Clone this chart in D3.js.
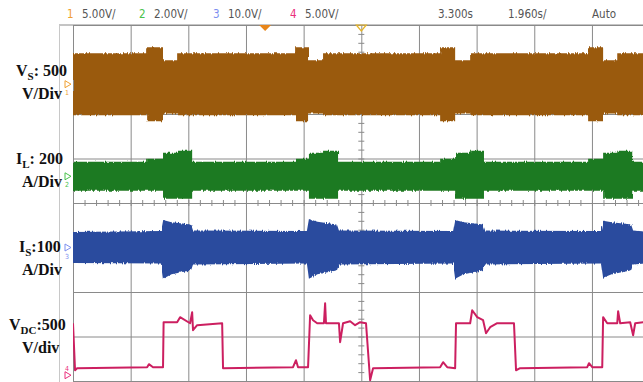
<!DOCTYPE html>
<html>
<head>
<meta charset="utf-8">
<script src="https://cdn.jsdelivr.net/npm/d3@7"></script>
<style>
  body { margin: 0; background: #fff; }
  svg { display: block; }
  .hdr { font-family: "Liberation Sans Narrow", "DejaVu Sans Condensed", Arial, sans-serif; font-size: 11.5px; fill: #555; }
  .lbl { font-family: "Liberation Serif", "Times New Roman", serif; font-weight: bold; font-size: 16px; fill: #111; }
  .grid line { stroke: #8a8a8a; stroke-width: 1; }
  .grid path { display: none; }
</style>
</head>
<body>
<div id="chart"></div>
<script>
// ---- scope settings ----
const SEC_PER_DIV = 1.96;            // time base (s/div), 10 divisions on screen
const chNames   = ['1', '2', '3', '4'];
const chHeader  = ['5.00V/', '2.00V/', '10.0V/', '5.00V/'];
const chColors  = ['#9a5a0d', '#1f7a22', '#2b4c9e', '#cc1f60'];
const chMarkColors = ['#f0a030', '#49c24c', '#7d8ff0', '#ea2f7c'];
const chOffsetDiv = [2.67, 0.6, -1.0, -3.87];  // ground marker positions (div)
const chScale   = [500, 200, 100, 500];        // units per division (from labels)
const timeHeader = ['3.300s', '1.960s/', 'Auto'];

// ---- CH1  V_S (V), envelope amplitude per time segment ----
const vsStart = [0, 2.52, 3.06, 3.54, 7.55, 7.99, 8.50, 12.48, 12.99, 13.50, 17.51, 18.02, 18.50];
const vsAmp   = [348, 416, 298, 348, 416, 298, 348, 416, 298, 348, 416, 298, 348];
const vsShift = [0, 0, -30, 0, 0, -30, 0, 0, -30, 0, 0, -30, 0];

// ---- CH2  I_L (A), envelope max/min per time segment ----
const ilStart = [0, 2.52, 3.06, 3.54, 4.05, 7.55, 8.02, 8.50, 9.01, 12.48, 12.99, 13.50, 13.97, 17.51, 18.02, 18.50, 19.01];
const ilMax   = [65, 79, 106, 115, 65, 79, 106, 115, 65, 79, 106, 115, 65, 79, 106, 115, 65];
const ilMin   = [-65, -65, -101, -101, -65, -65, -101, -101, -65, -65, -101, -101, -65, -65, -101, -101, -65];

// ---- CH3  I_S (A), envelope points ----
const isTime = [0, 2.99, 3.06, 3.35, 3.95, 4.02, 4.08, 7.95, 8.02, 8.31, 8.91, 8.98, 9.04,
  12.92, 12.99, 13.28, 13.88, 13.95, 14.01, 17.95, 18.02, 18.31, 18.91, 18.98, 19.04, 19.6];
const isMax  = [35, 37, 62, 57, 52, 50, 38, 37, 64, 58, 52, 50, 38,
  37, 62, 57, 52, 50, 38, 37, 60, 57, 52, 50, 38, 35];
const isMin  = [-35, -36, -70, -60, -52, -50, -38, -36, -70, -60, -52, -50, -38,
  -36, -70, -60, -52, -50, -38, -36, -68, -60, -52, -50, -38, -35];

// ---- CH4  V_DC (V) ----
const vdcTime = [0, 0.07, 0.14, 2.52, 2.58, 2.72, 3.06, 3.08, 3.54, 3.64, 3.98, 4.05, 4.08, 4.22, 5.07, 5.10,
  7.48, 7.58, 7.65, 7.99, 8.06, 8.16, 8.30, 8.53, 8.57, 8.60, 9.04, 9.08, 9.18, 9.42, 9.59, 9.76, 9.96, 10.10, 10.20,
  12.48, 12.58, 12.72, 12.99, 13.02, 13.50, 13.57, 13.74, 13.94, 14.04, 14.18, 14.42, 14.99, 15.06, 15.20,
  17.48, 17.54, 17.65, 17.99, 18.02, 18.16, 18.50, 18.53, 18.60, 18.94, 19.04, 19.11, 19.38];
const vdcVolt = [584, 56, 79, 90, 124, 90, 90, 596, 596, 652, 584, 708, 506, 562, 584, 79,
  90, 169, 90, 90, 674, 618, 584, 584, 809, 584, 584, 371, 584, 607, 562, 596, 584, -56, 79,
  90, 146, 90, 79, 584, 584, 730, 652, 618, 472, 539, 584, 584, 56, 79,
  90, 135, 90, 90, 652, 584, 584, 719, 584, 596, 449, 584, 596];

// ---- layout ----
const W = 643, H = 382;
const scrLeft = 73, scrTop = 25, divW = 57.66, divH = 44.5;
const tEnd = 10 * SEC_PER_DIV;

const svg = d3.select('#chart').append('svg').attr('width', W).attr('height', H);

const x = d3.scaleLinear().domain([0, tEnd]).range([scrLeft, scrLeft + 10 * divW]);
const y = d3.scaleLinear().domain([-4, 4]).range([scrTop + 8 * divH, scrTop]);
const toDiv = (c, v) => chOffsetDiv[c] + v / chScale[c];

const defs = svg.append('defs');
const rough = defs.append('filter').attr('id', 'rough')
  .attr('x', '-2%').attr('y', '-30%').attr('width', '104%').attr('height', '160%');
rough.append('feTurbulence').attr('type', 'fractalNoise')
  .attr('baseFrequency', '0.9 0.05').attr('numOctaves', 2).attr('seed', 4);
rough.append('feDisplacementMap').attr('in', 'SourceGraphic').attr('scale', 3.5)
  .attr('xChannelSelector', 'R').attr('yChannelSelector', 'G');
defs.append('clipPath').attr('id', 'screen').append('rect')
  .attr('x', scrLeft).attr('y', scrTop).attr('width', W - scrLeft).attr('height', H - scrTop);

// ---- grid ----
const divTimes = d3.range(0, 11).map(i => i * SEC_PER_DIV);
const divLevels = d3.range(-4, 5);

svg.append('g').attr('class', 'grid')
  .attr('transform', `translate(0,${scrTop})`)
  .call(d3.axisBottom(x).tickValues(divTimes).tickSize(8 * divH).tickFormat(''));
svg.append('g').attr('class', 'grid')
  .attr('transform', `translate(${scrLeft},0)`)
  .call(d3.axisRight(y).tickValues(divLevels).tickSize(W - scrLeft).tickFormat(''));

// minor ticks on the centre cross
const minorT = d3.range(0, 51).map(i => i * SEC_PER_DIV / 5);
const minorV = d3.range(-20, 21).map(i => i / 5);
svg.append('g').attr('class', 'grid')
  .attr('transform', `translate(0,${y(0) - 3})`)
  .call(d3.axisBottom(x).tickValues(minorT).tickSize(6).tickFormat(''));
svg.append('g').attr('class', 'grid')
  .attr('transform', `translate(${x(tEnd / 2) - 3},0)`)
  .call(d3.axisRight(y).tickValues(minorV).tickSize(6).tickFormat(''));

// screen border
svg.append('line').attr('x1', 59).attr('x2', W).attr('y1', scrTop).attr('y2', scrTop)
  .attr('stroke', '#8a8a8a');
svg.append('line').attr('x1', 59.5).attr('x2', 59.5).attr('y1', scrTop).attr('y2', H)
  .attr('stroke', '#c8c8c8');

// ---- traces ----
const traces = svg.append('g').attr('clip-path', 'url(#screen)');

function stepData(starts, hi, lo) {
  const d = starts.map((t, i) => ({ t, hi: hi[i], lo: lo[i] }));
  d.push({ t: tEnd, hi: hi[hi.length - 1], lo: lo[lo.length - 1] });
  return d;
}

const vsData = stepData(vsStart, vsAmp.map((a, i) => a + vsShift[i]), vsAmp.map((a, i) => -a + vsShift[i]));
const ilData = stepData(ilStart, ilMax, ilMin);
const isData = isTime.map((t, i) => ({ t, hi: isMax[i], lo: isMin[i] }));

function band(c, data, curve) {
  const area = d3.area()
    .x(d => x(d.t))
    .y0(d => y(toDiv(c, d.lo)))
    .y1(d => y(toDiv(c, d.hi)))
    .curve(curve);
  traces.append('path').datum(data)
    .attr('d', area)
    .attr('fill', chColors[c])
    .attr('filter', 'url(#rough)');
}
band(0, vsData, d3.curveStepAfter);
band(1, ilData, d3.curveStepAfter);
band(2, isData, d3.curveLinear);

const vdcLine = d3.line().x(d => x(d.t)).y(d => y(toDiv(3, d.v)));
traces.append('path')
  .datum(vdcTime.map((t, i) => ({ t, v: vdcVolt[i] })))
  .attr('d', vdcLine)
  .attr('fill', 'none')
  .attr('stroke', chColors[3])
  .attr('stroke-width', 2)
  .attr('stroke-linejoin', 'round');

// ---- channel ground markers ----
chNames.forEach((n, c) => {
  const yy = y(chOffsetDiv[c]);
  const g = svg.append('g');
  g.append('path')
    .attr('d', `M${scrLeft - 8},${yy - 3.5} L${scrLeft - 2},${yy} L${scrLeft - 8},${yy + 3.5} Z`)
    .attr('fill', 'none').attr('stroke', chMarkColors[c]).attr('stroke-width', 1);
  g.append('text').attr('x', scrLeft - 8).attr('y', c === 3 ? yy - 4 : yy + 11)
    .attr('font-family', 'Liberation Sans Narrow, DejaVu Sans Condensed, sans-serif')
    .attr('font-size', 7).attr('fill', chMarkColors[c]).text(n);
});

// trigger markers
svg.append('path').attr('d', `M${x(6.53) - 6},${scrTop} L${x(6.53) + 6},${scrTop} L${x(6.53)},${scrTop + 6} Z`)
  .attr('fill', '#e8861a');
svg.append('path').attr('d', `M${x(tEnd / 2) - 5},${scrTop} L${x(tEnd / 2) + 5},${scrTop} L${x(tEnd / 2)},${scrTop + 6} Z`)
  .attr('fill', 'none').attr('stroke', '#e6b428').attr('stroke-width', 1.2);

// ---- header ----
const hdr = svg.append('g').attr('class', 'hdr');
const chX = [67, 139, 213, 290];
chNames.forEach((n, c) => {
  hdr.append('text').attr('x', chX[c]).attr('y', 18)
    .style('fill', chMarkColors[c]).text(n);
  hdr.append('text').attr('x', chX[c] + 15).attr('y', 18).text(chHeader[c]);
});
const tX = [438, 508, 592];
timeHeader.forEach((s, i) => hdr.append('text').attr('x', tX[i]).attr('y', 18).text(s));

// ---- channel labels ----
const labels = [
  { main: 'V', sub: 'S', rest: ': 500', unit: 'V/Div', x: 16, y: 76, ux: 22 },
  { main: 'I', sub: 'L', rest: ': 200', unit: 'A/Div', x: 16, y: 164, ux: 22 },
  { main: 'I', sub: 'S', rest: ':100', unit: 'A/Div', x: 19, y: 252, ux: 22 },
  { main: 'V', sub: 'DC', rest: ':500', unit: 'V/div', x: 9, y: 330, ux: 22 }
];
labels.forEach(l => {
  const t = svg.append('text').attr('class', 'lbl').attr('x', l.x).attr('y', l.y);
  t.append('tspan').text(l.main);
  t.append('tspan').attr('dy', 4).attr('font-size', 11).text(l.sub);
  t.append('tspan').attr('dy', -4).text(l.rest);
  svg.append('text').attr('class', 'lbl').attr('x', l.ux).attr('y', l.y + 23).text(l.unit);
});
</script>
</body>
</html>
